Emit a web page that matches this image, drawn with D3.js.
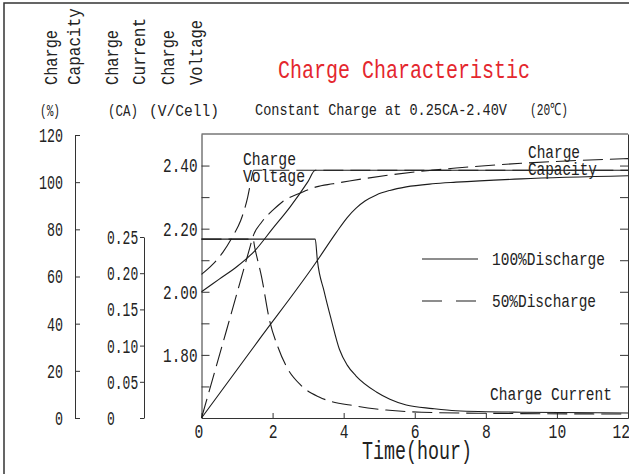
<!DOCTYPE html>
<html>
<head>
<meta charset="utf-8">
<script src="https://cdn.jsdelivr.net/npm/d3@7"></script>
<style>
	body { margin: 0; background: #fff; }
	svg { display: block; }
	text { font-family: "Liberation Mono", "DejaVu Sans Mono", monospace; fill: #222; }
</style>
</head>
<body>
<div id="chart"></div>
<script>
// values (hours -> value)
var voltHours100 = [0, 0.5, 1.0, 1.5, 2.0, 2.5, 3.0, 3.2, 12];
var voltValues100 = [2.00, 2.04, 2.08, 2.13, 2.20, 2.27, 2.35, 2.385, 2.385];
var voltHours50 = [0, 0.3, 0.6, 0.9, 1.1, 1.3, 1.4, 1.47, 12];
var voltValues50 = [2.055, 2.085, 2.125, 2.18, 2.225, 2.30, 2.355, 2.385, 2.385];

var currHours100 = [0, 3.1, 3.2, 3.26, 3.45, 3.65, 3.88, 4.1, 4.35, 4.92, 5.3, 5.76, 6.5, 7.16, 9, 12];
var currValues100 = [0.247, 0.247, 0.247, 0.218, 0.175, 0.136, 0.095, 0.073, 0.058, 0.036, 0.026, 0.018, 0.013, 0.010, 0.008, 0.007];
var currHours50 = [0, 1.4, 1.45, 1.5, 1.69, 1.91, 2.15, 2.39, 2.8, 3.31, 4.35, 5.2, 6.2, 8, 12];
var currValues50 = [0.247, 0.247, 0.247, 0.235, 0.195, 0.136, 0.098, 0.071, 0.045, 0.029, 0.0165, 0.011, 0.008, 0.0065, 0.0055];

var capHours100 = [0, 1.6, 3.2, 3.79, 4.1, 4.35, 4.6, 4.92, 5.3, 5.76, 6.5, 7.16, 9, 12];
var capValues100 = [0, 32.8, 65.5, 78.6, 85, 89, 92, 94.6, 96.5, 98, 99.3, 100, 101.4, 102.7];
var capHours50 = [0, 0.7, 1.35, 1.45, 1.69, 2.0, 2.28, 2.8, 3.23, 3.7, 4.16, 5.28, 7.16, 9, 12];
var capValues50 = [0, 37, 71.7, 77, 83, 88, 91.7, 95.5, 98, 99.3, 100.5, 103, 106, 108, 110];

// tick labels
var hourTicks = [0, 2, 4, 6, 8, 10, 12];
var capTicks = [0, 20, 40, 60, 80, 100, 120];
var currTicks = [0, 0.05, 0.10, 0.15, 0.20, 0.25];
var voltTicks = [1.7, 1.8, 1.9, 2.0, 2.1, 2.2, 2.3, 2.4];
var voltLabelled = [1.8, 2.0, 2.2, 2.4];

var width = 629, height = 474;
var plot = { left: 201.5, right: 628, top: 134, bottom: 418 };

var svg = d3.select('#chart').append('svg')
	.attr('width', width).attr('height', height);

svg.append('rect').attr('width', width).attr('height', height).attr('fill', '#fff');

// outer frame (only left and top are inside the picture)
svg.append('path')
	.attr('d', 'M4,' + height + 'V3H' + width)
	.attr('fill', 'none').attr('stroke', '#333').attr('stroke-width', 1.5);

var x = d3.scaleLinear().domain([0, 12]).range([plot.left, plot.right]);
var yV = d3.scaleLinear().domain([1.6, 2.5]).range([plot.bottom, plot.top]);
var yC = d3.scaleLinear().domain([0, 0.25]).range([plot.bottom, 237]);
var yQ = d3.scaleLinear().domain([0, 120]).range([plot.bottom, 135]);

// squeeze a mono font to MS Gothic like half width cells
function fit(sel, size, cell) {
	sel.style('font-size', size + 'px')
		.attr('textLength', function() { return this.textContent.length * cell; })
		.attr('lengthAdjust', 'spacingAndGlyphs');
}

function text(str, px, py, size, len, color) {
	return svg.append('text')
		.text(str)
		.attr('x', px).attr('y', py)
		.style('font-size', size + 'px')
		.attr('textLength', len)
		.attr('lengthAdjust', 'spacingAndGlyphs')
		.style('fill', color || '#222');
}

function styleAxis(g) {
	g.selectAll('path, line').attr('stroke', '#333').attr('stroke-width', 1);
	g.selectAll('text').style('fill', '#222').attr('font-family', null);
}

// capacity axis
var capAxis = svg.append('g').attr('transform', 'translate(75,0)')
	.call(d3.axisRight(yQ).tickValues(capTicks).tickSize(5).tickSizeOuter(0));
styleAxis(capAxis);
capAxis.selectAll('text').call(fit, 20, 8)
	.attr('text-anchor', 'start')
	.attr('x', function() { return -12 - this.textContent.length * 8; });

// current axis
var currAxis = svg.append('g').attr('transform', 'translate(144,0)')
	.call(d3.axisLeft(yC).tickValues(currTicks).tickSize(4).tickSizeOuter(0)
		.tickFormat(function(d) { return d === 0 ? '0' : d3.format('.2f')(d); }));
styleAxis(currAxis);
currAxis.selectAll('text').call(fit, 20, 7.8)
	.attr('text-anchor', 'start').attr('x', -37);

// voltage axis, ticks inside
var voltAxis = svg.append('g').attr('transform', 'translate(' + plot.left + ',0)')
	.call(d3.axisLeft(yV).tickValues(voltTicks).tickSize(-8).tickSizeOuter(0)
		.tickFormat(function(d) {
			return voltLabelled.some(function(v) { return Math.abs(v - d) < 1e-6; }) ? d3.format('.2f')(d) : '';
		}));
styleAxis(voltAxis);
voltAxis.selectAll('text').call(fit, 20, 8.6)
	.attr('text-anchor', 'start')
	.attr('x', function() { return -4 - this.textContent.length * 8.6; });

var rightAxis = svg.append('g').attr('transform', 'translate(' + plot.right + ',0)')
	.call(d3.axisRight(yV).tickValues(voltTicks).tickSize(-8).tickSizeOuter(0).tickFormat(''));
styleAxis(rightAxis);

var timeAxis = svg.append('g').attr('transform', 'translate(0,' + plot.bottom + ')')
	.call(d3.axisBottom(x).tickValues(hourTicks).tickSize(-5).tickSizeOuter(0));
styleAxis(timeAxis);
timeAxis.selectAll('text').call(fit, 20, 8.8)
	.attr('text-anchor', 'start').attr('y', 20).attr('dy', null)
	.attr('x', function(d) {
		var len = this.textContent.length * 8.8;
		if (d === 12) return -16;
		if (d === 0) return -len / 2 - 3;
		return -len / 2;
	});

// top edge of the plot box
svg.append('line')
	.attr('x1', plot.left).attr('x2', plot.right)
	.attr('y1', plot.top).attr('y2', plot.top)
	.attr('stroke', '#333');

// curves
var curves = svg.append('g').attr('fill', 'none').attr('stroke', '#1c1c1c').attr('stroke-width', 1.1);

function draw(hours, values, scale, dashed) {
	var line = d3.line()
		.x(function(d) { return x(d[0]); })
		.y(function(d) { return scale(d[1]); })
		.curve(d3.curveMonotoneX);
	curves.append('path')
		.attr('d', line(d3.zip(hours, values)))
		.attr('stroke-dasharray', dashed ? '20,7' : null);
}

draw(voltHours50, voltValues50, yV, true);
draw(currHours50, currValues50, yC, true);
draw(capHours50, capValues50, yQ, true);
draw(voltHours100, voltValues100, yV, false);
draw(currHours100, currValues100, yC, false);
draw(capHours100, capValues100, yQ, false);

// legend
svg.append('line').attr('x1', 422).attr('x2', 478).attr('y1', 259).attr('y2', 259)
	.attr('stroke', '#1c1c1c').attr('stroke-width', 1.1);
svg.append('line').attr('x1', 422).attr('x2', 478).attr('y1', 301).attr('y2', 301)
	.attr('stroke', '#1c1c1c').attr('stroke-width', 1.1).attr('stroke-dasharray', '20,14');
text('100%Discharge', 492, 265, 18, 113);
text('50%Discharge', 492, 307, 18, 104);

// curve labels
text('Charge', 243, 165, 18, 53);
text('Voltage', 243, 182, 18, 62);
text('Charge', 528, 158, 18, 52);
text('Capacity', 528, 175, 18, 69);
text('Charge Current', 490, 400, 18, 122);

// titles
text('Charge Characteristic', 278, 78, 26, 252, '#e4272e');
text('Constant Charge at 0.25CA-2.40V', 255, 115, 17, 252);
text('(20℃)', 530, 115, 17, 38);
text('Time(hour)', 362, 459, 25, 110);

// axis names, rotated
var names = [
	{ s: 'Charge', x: 57, len: 55 },
	{ s: 'Capacity', x: 80, len: 77 },
	{ s: 'Charge', x: 118, len: 55 },
	{ s: 'Current', x: 145, len: 67 },
	{ s: 'Charge', x: 174, len: 55 },
	{ s: 'Voltage', x: 202, len: 65 }
];
names.forEach(function(n) {
	text(n.s, 0, 0, 18, n.len).attr('transform', 'translate(' + n.x + ',85) rotate(-90)');
});

text('(%)', 40, 116, 17, 20);
text('(CA)', 108, 116, 17, 30);
text('(V/Cell)', 149, 116, 17, 70);
</script>
</body>
</html>
